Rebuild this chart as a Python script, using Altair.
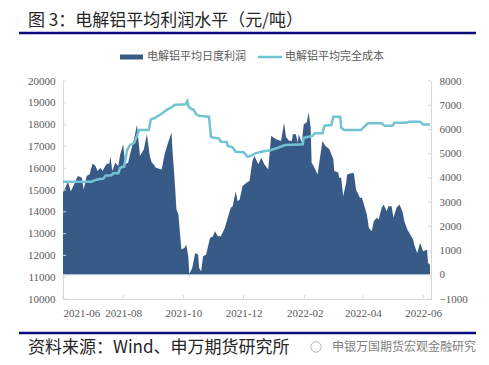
import altair as alt
import pandas as pd

# ---------------- data ----------------
profit_dates = [
    "2021-06-01", "2021-06-06", "2021-06-09", "2021-06-16", "2021-06-20", "2021-06-22",
    "2021-06-25", "2021-06-28", "2021-07-01", "2021-07-04", "2021-07-06", "2021-07-09",
    "2021-07-11", "2021-07-15", "2021-07-18", "2021-07-19", "2021-07-21", "2021-07-24",
    "2021-07-27", "2021-07-29", "2021-08-01", "2021-08-03", "2021-08-06", "2021-08-08",
    "2021-08-12", "2021-08-15", "2021-08-18", "2021-08-22", "2021-08-25", "2021-08-28",
    "2021-08-30", "2021-09-01", "2021-09-03", "2021-09-09", "2021-09-12", "2021-09-15",
    "2021-09-19", "2021-09-20", "2021-09-22", "2021-09-24", "2021-09-26", "2021-09-29",
    "2021-10-02", "2021-10-04", "2021-10-06", "2021-10-07", "2021-10-10", "2021-10-13",
    "2021-10-16", "2021-10-17", "2021-10-19", "2021-10-21", "2021-10-24", "2021-10-28",
    "2021-10-31", "2021-11-02", "2021-11-05", "2021-11-08", "2021-11-12", "2021-11-15",
    "2021-11-18", "2021-11-20", "2021-11-23", "2021-11-25", "2021-11-27", "2021-11-30",
    "2021-12-04", "2021-12-07", "2021-12-10", "2021-12-12", "2021-12-16", "2021-12-19",
    "2021-12-22", "2021-12-26", "2021-12-29", "2022-01-03", "2022-01-08", "2022-01-10",
    "2022-01-11", "2022-01-13", "2022-01-16", "2022-01-19", "2022-01-20", "2022-01-23",
    "2022-01-25", "2022-01-26", "2022-01-29", "2022-01-31", "2022-02-03", "2022-02-05",
    "2022-02-07", "2022-02-08", "2022-02-10", "2022-02-14", "2022-02-16", "2022-02-19",
    "2022-02-22", "2022-02-26", "2022-02-28", "2022-03-02", "2022-03-03", "2022-03-07",
    "2022-03-08", "2022-03-10", "2022-03-12", "2022-03-15", "2022-03-16", "2022-03-22",
    "2022-03-23", "2022-03-25", "2022-03-29", "2022-03-31", "2022-04-03", "2022-04-05",
    "2022-04-07", "2022-04-10", "2022-04-12", "2022-04-15", "2022-04-17", "2022-04-20",
    "2022-04-22", "2022-04-25", "2022-04-27", "2022-04-30", "2022-05-02", "2022-05-05",
    "2022-05-08", "2022-05-11", "2022-05-13", "2022-05-16", "2022-05-19", "2022-05-22",
    "2022-05-23", "2022-05-26", "2022-05-29", "2022-06-01", "2022-06-05", "2022-06-06",
    "2022-06-08",
]
profit_values = [
    3390, 3840, 3450, 4080, 4010, 3520,
    4080, 4150, 4590, 4490, 4280, 4420,
    4280, 4560, 4590, 4905, 4280, 4630,
    4490, 4975, 5390, 4560, 4630, 4975,
    5600, 6190, 4905, 5180, 5800, 4900,
    4630, 4560, 4420, 4350, 4975, 5390,
    5870, 5110, 4010, 2690, 2490, 1040,
    1105, 1240, 760, 40, 276, 898,
    830, 276, 137, 760, 830, 1520,
    1590, 1797, 1590, 1590, 1935, 2350,
    2765, 2830, 3453, 3038, 3100, 3660,
    3800, 3870, 4700, 4905, 4560, 4835,
    4560, 4350, 5733, 5600, 5525, 6010,
    6290, 5700, 5530, 5525, 5800, 5800,
    5460, 5800, 5460, 6218, 6290, 6700,
    6080, 4630, 4490, 4145, 4700, 5525,
    5318, 5180, 4975, 4770, 4282, 4220,
    4010, 4010, 3245, 3800, 4145, 4215,
    4145, 3523, 3178, 3178, 2765, 2490,
    1935, 1797, 2210, 2350, 2280, 2765,
    2900, 2625, 2830, 2830, 2350, 2765,
    2900, 2625, 2210, 1865, 1658, 1450,
    1240, 898, 1313, 970, 1036, 485,
    415,
]

cost_dates = [
    "2021-06-01", "2021-06-30", "2021-07-02", "2021-07-08", "2021-07-12", "2021-07-14",
    "2021-07-20", "2021-07-22", "2021-07-27", "2021-07-29", "2021-08-02", "2021-08-05",
    "2021-08-08", "2021-08-12", "2021-08-15", "2021-08-17", "2021-08-27", "2021-08-29",
    "2021-09-02", "2021-09-04", "2021-09-09", "2021-09-14", "2021-09-19", "2021-09-22",
    "2021-10-03", "2021-10-05", "2021-10-06", "2021-10-09", "2021-10-11", "2021-10-14",
    "2021-10-17", "2021-10-27", "2021-10-29", "2021-11-01", "2021-11-06", "2021-11-08",
    "2021-11-14", "2021-11-15", "2021-11-20", "2021-11-23", "2021-12-01", "2021-12-05",
    "2021-12-08", "2021-12-13", "2021-12-19", "2021-12-29", "2022-01-05", "2022-01-12",
    "2022-01-19", "2022-01-30", "2022-01-31", "2022-02-05", "2022-02-09", "2022-02-11",
    "2022-02-19", "2022-02-21", "2022-02-28", "2022-03-02", "2022-03-09", "2022-03-10",
    "2022-03-13", "2022-03-30", "2022-04-06", "2022-04-20", "2022-04-23", "2022-05-01",
    "2022-05-03", "2022-05-15", "2022-05-18", "2022-05-29", "2022-06-01", "2022-06-08",
]
cost_values = [
    15380, 15380, 15430, 15505, 15520, 15655,
    15680, 15765, 15770, 16020, 16080, 16835,
    17065, 17150, 17490, 17750, 17750, 18240,
    18300, 18360, 18500, 18670, 18800, 18900,
    18930, 19080, 18850, 18715, 18700, 18470,
    18400, 18360, 17445, 17400, 17370, 17215,
    17200, 17030, 16950, 16755, 16730, 16530,
    16560, 16680, 16755, 16835, 16940, 17065,
    17080, 17095, 17400, 17445, 17480, 17600,
    17600, 17950, 17980, 18360, 18360, 17860,
    17750, 17750, 18060, 18060, 17950, 17950,
    18090, 18090, 18130, 18130, 18010, 18010,
]

left_ticks = [10000, 11000, 12000, 13000, 14000, 15000, 16000, 17000, 18000, 19000, 20000]
right_ticks = [-1000, 0, 1000, 2000, 3000, 4000, 5000, 6000, 7000, 8000]
x_tick_months = [(2021, 6), (2021, 8), (2021, 10), (2021, 12), (2022, 2), (2022, 4), (2022, 6)]

title_text = "图 3：电解铝平均利润水平（元/吨）"
legend_profit = "电解铝平均日度利润"
legend_cost = "电解铝平均完全成本"
source_text = "资料来源：Wind、申万期货研究所"
watermark_text = "申银万国期货宏观金融研究"

# ---------------- styles ----------------
AREA = "#375A87"
LINE = "#72C3D4"
NAVY = "#0B0B7E"
AXIS_GRAY = "#D9D9D9"
LABEL_GRAY = "#595959"
CJK = "Noto Sans CJK SC"
SERIF = "Liberation Serif"

W, H = 368, 218

profit = pd.DataFrame({"date": profit_dates, "profit": profit_values})
cost = pd.DataFrame({"date": cost_dates, "cost": cost_values})
xticks = pd.DataFrame({"date": [f"{y}-{m:02d}-01" for y, m in x_tick_months]})
lticks = pd.DataFrame({"v": left_ticks})
rticks = pd.DataFrame({"v": right_ticks})
zero = pd.DataFrame({"v": [0]})
one = pd.DataFrame({"k": [0]})

x_scale = alt.Scale(
    type="utc",
    domain=[alt.DateTime(year=2021, month=6, date=1, utc=True),
            alt.DateTime(year=2022, month=6, date=9, utc=True)],
)
x_axis = alt.Axis(
    values=[alt.DateTime(year=y, month=m, date=1, utc=True) for y, m in x_tick_months],
    labelExpr="utcFormat(datum.value, '%Y-%m')", title=None, ticks=False,
    labelPadding=8, labelFont=SERIF, labelFontSize=11, labelColor=LABEL_GRAY,
    domainColor=AXIS_GRAY, grid=False, labelOverlap=False,
)

right_scale = alt.Scale(domain=[-1000, 8000], nice=False, zero=False)
left_scale = alt.Scale(domain=[10000, 20000], nice=False, zero=False)

right_axis = alt.Axis(
    orient="right", values=right_ticks, title=None, ticks=False, labelPadding=8,
    labelFont=SERIF, labelFontSize=11, labelColor=LABEL_GRAY, domainColor=AXIS_GRAY,
    grid=False, format="d", labelOverlap=False,
)
left_axis = alt.Axis(
    orient="left", values=left_ticks, title=None, ticks=False, labelPadding=8,
    labelFont=SERIF, labelFontSize=11, labelColor=LABEL_GRAY, domainColor=AXIS_GRAY,
    grid=False, format="d", labelOverlap=False,
)

area = alt.Chart(profit).mark_area(color=AREA, opacity=1).encode(
    x=alt.X("date:T", scale=x_scale, axis=x_axis),
    y=alt.Y("profit:Q", scale=right_scale, axis=right_axis),
)
zero_rule = alt.Chart(zero).mark_rule(color="#CBD5E1", strokeWidth=1).encode(
    y=alt.Y("v:Q", scale=right_scale, axis=right_axis),
)
rtick_marks = alt.Chart(rticks).mark_rule(color=AXIS_GRAY, strokeWidth=1).encode(
    y=alt.Y("v:Q", scale=right_scale, axis=right_axis),
    x=alt.value(W - 3), x2=alt.value(W),
)
right_group = alt.layer(area, zero_rule, rtick_marks)

line = alt.Chart(cost).mark_line(color=LINE, strokeWidth=2.5).encode(
    x=alt.X("date:T", scale=x_scale, axis=x_axis),
    y=alt.Y("cost:Q", scale=left_scale, axis=left_axis),
)
ltick_marks = alt.Chart(lticks).mark_rule(color=AXIS_GRAY, strokeWidth=1).encode(
    y=alt.Y("v:Q", scale=left_scale, axis=left_axis),
    x=alt.value(0), x2=alt.value(3),
)
left_group = alt.layer(ltick_marks, line)

xtick_marks = alt.Chart(xticks).mark_rule(color=AXIS_GRAY, strokeWidth=1).encode(
    x=alt.X("date:T", scale=x_scale, axis=x_axis),
    y=alt.value(H - 4), y2=alt.value(H),
)


def txt(text, x, y, size, color, font=CJK, align="left"):
    return alt.Chart(one).mark_text(
        align=align, baseline="middle", font=font, fontSize=size, color=color
    ).encode(x=alt.value(x), y=alt.value(y), text=alt.value(text))


def hline(x1, x2, y, color, width):
    return alt.Chart(one).mark_rule(color=color, strokeWidth=width).encode(
        x=alt.value(x1), x2=alt.value(x2), y=alt.value(y)
    )


decor = [
    txt(title_text, -35, -60, 17, "#262626"),
    hline(-44, 413, -48, NAVY, 2.5),
    hline(57, 80, -24, AREA, 5),
    txt(legend_profit, 84, -24, 11, LABEL_GRAY),
    hline(195, 219, -24, LINE, 2.5),
    txt(legend_cost, 222, -24, 11, LABEL_GRAY),
    hline(-44, 413, 252, NAVY, 2.5),
    txt(source_text, -35, 267, 17, "#262626"),
    alt.Chart(one).mark_point(shape="circle", size=110, color="#9A9A9A", strokeWidth=1).encode(
        x=alt.value(253), y=alt.value(266)),
    txt(watermark_text, 269, 266, 12, "#7F7F7F"),
]

chart = alt.layer(
    right_group, left_group, xtick_marks, *decor
).resolve_scale(y="independent").properties(
    width=W, height=H,
    autosize=alt.AutoSizeParams(type="none"),
    padding={"left": 55, "top": 73, "right": 50, "bottom": 58},
    background="white",
).configure_view(strokeWidth=0)

chart.save("out.html", embed_options={"renderer": "svg", "actions": False})
